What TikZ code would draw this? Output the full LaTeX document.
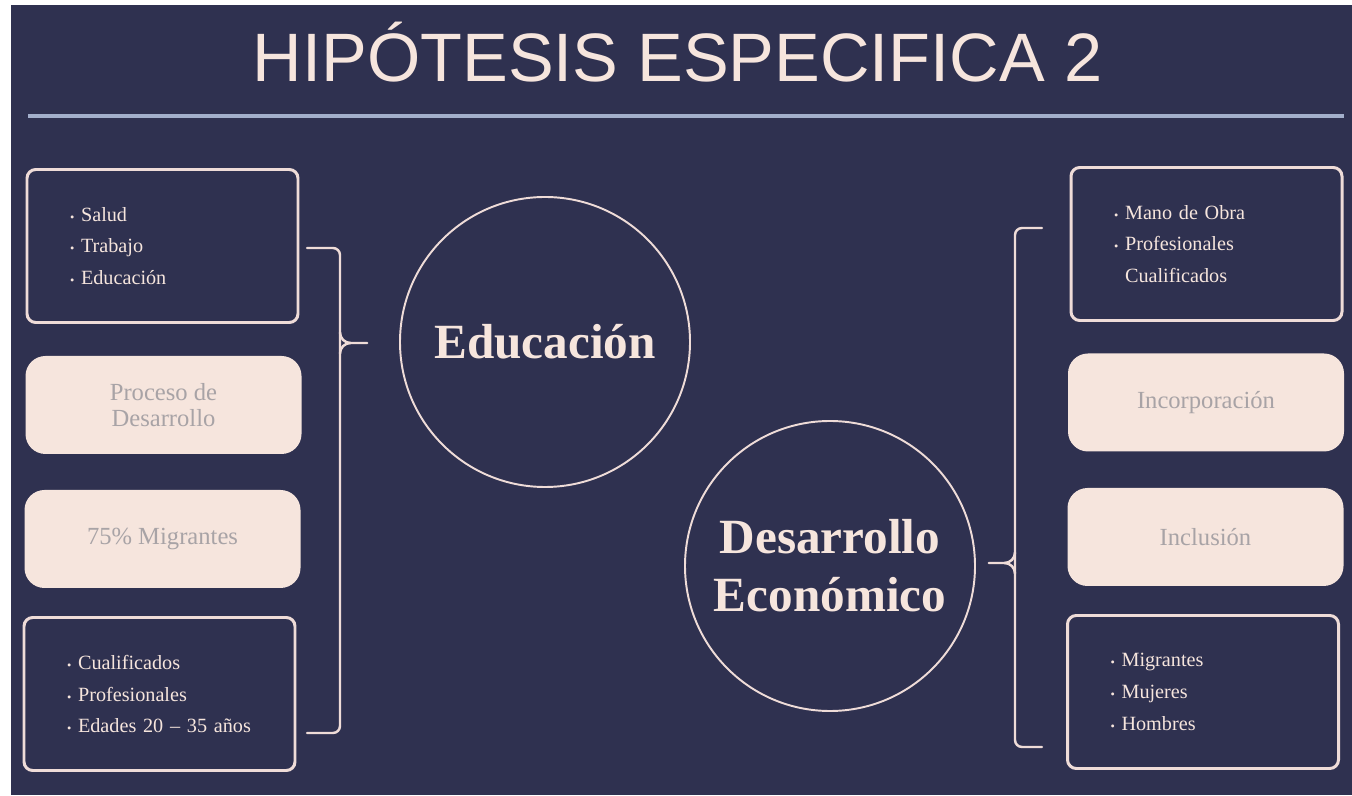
\documentclass[tikz,border=0pt]{standalone}
\usepackage{fontspec}
\setmainfont{Liberation Serif}
\newfontfamily\titlefont{Liberation Sans}
\usepackage{tikz}
\usetikzlibrary{calc}
\definecolor{fondo}{HTML}{2F3150}
\definecolor{crema}{HTML}{F6E5DD}
\definecolor{borde}{HTML}{EFDCD8}
\definecolor{gristxt}{HTML}{A8A3A6}
\definecolor{regla}{HTML}{A3AFCB}
\newcommand{\vin}{{\scriptsize\textbullet}\ }
\tikzset{
  lista/.style={draw=borde,line width=1.7pt,rounded corners=5pt,text=crema,align=left,
                inner xsep=0.86cm,text width=3.7cm,minimum height=3.06cm,
                font=\fontsize{11.5}{18}\selectfont},
  relleno/.style={fill=crema,rounded corners=0.4cm,text=gristxt,align=center,
                  minimum width=5.52cm,minimum height=1.96cm,
                  font=\fontsize{14}{15}\selectfont},
  circulo/.style={circle,draw=borde,line width=1.1pt,minimum size=5.8cm,inner sep=0pt,
                  text=crema,align=center,font=\bfseries\fontsize{28}{33}\selectfont},
  brk/.style={draw=borde,line width=1.4pt,line cap=round}
}
\begin{document}
\begin{tikzpicture}
  \useasboundingbox (0,0) rectangle (27.04,15.9);
  \fill[white] (0,0) rectangle (27.04,15.9);
  \fill[fondo] (0.22,0) rectangle (27.04,15.8);
  % titulo y regla
  \node[anchor=base,text=crema,font=\titlefont\fontsize{39}{48}\selectfont] (tit) at (13.55,14.26) {HIPÓTESIS ESPECIFICA 2};
  \draw[regla,line width=2.8pt] (0.56,13.58) -- (26.88,13.58);

  % columna izquierda
  \node[lista] (l1) at (3.25,10.98) {\vin Salud\\\vin Trabajo\\\vin Educación};
  \node[relleno] (l2) at (3.27,7.80) {Proceso de\\Desarrollo};
  \node[relleno] (l3) at (3.25,5.12) {75\% Migrantes};
  \node[lista] (l4) at (3.19,2.02) {\vin Cualificados\\\vin Profesionales\\\vin Edades 20 – 35 años};

  % circulos centrales
  \node[circulo] (edu) at (10.9,9.06) {Educación};
  \node[circulo] (dec) at (16.6,4.58) {Desarrollo\\Económico};

  % columna derecha
  \node[lista] (r1) at (24.13,11.02) {\vin Mano de Obra\\\vin Profesionales\\\phantom{\vin}Cualificados};
  \node[relleno] (r2) at (24.12,7.85) {Incorporación};
  \node[relleno] (r3) at (24.11,5.16) {Inclusión};
  \node[lista] (r4) at (24.06,2.06) {\vin Migrantes\\\vin Mujeres\\\vin Hombres};

  % llaves
  \coordinate (ltop) at (6.14,10.94);
  \coordinate (lmid) at (6.8,9.04);
  \coordinate (lbot) at (6.14,1.24);
  \coordinate (ltip) at ($(edu.west)+(-0.64,-0.02)$);
  \draw[brk,rounded corners=4pt] (ltop) -| (lmid) |- (lbot);
  \draw[brk] ([yshift=6pt]lmid) to[out=-90,in=180] ([xshift=6pt]lmid) -- (ltip);
  \draw[brk] ([yshift=-6pt]lmid) to[out=90,in=180] ([xshift=6pt]lmid);

  \coordinate (rtop) at (20.84,11.34);
  \coordinate (rmid) at (20.3,4.64);
  \coordinate (rbot) at (20.84,0.96);
  \coordinate (rtip) at ($(dec.east)+(0.26,0.06)$);
  \draw[brk,rounded corners=4pt] (rtop) -| (rmid) |- (rbot);
  \draw[brk] ([yshift=6pt]rmid) to[out=-90,in=0] ([xshift=-6pt]rmid) -- (rtip);
  \draw[brk] ([yshift=-6pt]rmid) to[out=90,in=0] ([xshift=-6pt]rmid);
\end{tikzpicture}
\end{document}
